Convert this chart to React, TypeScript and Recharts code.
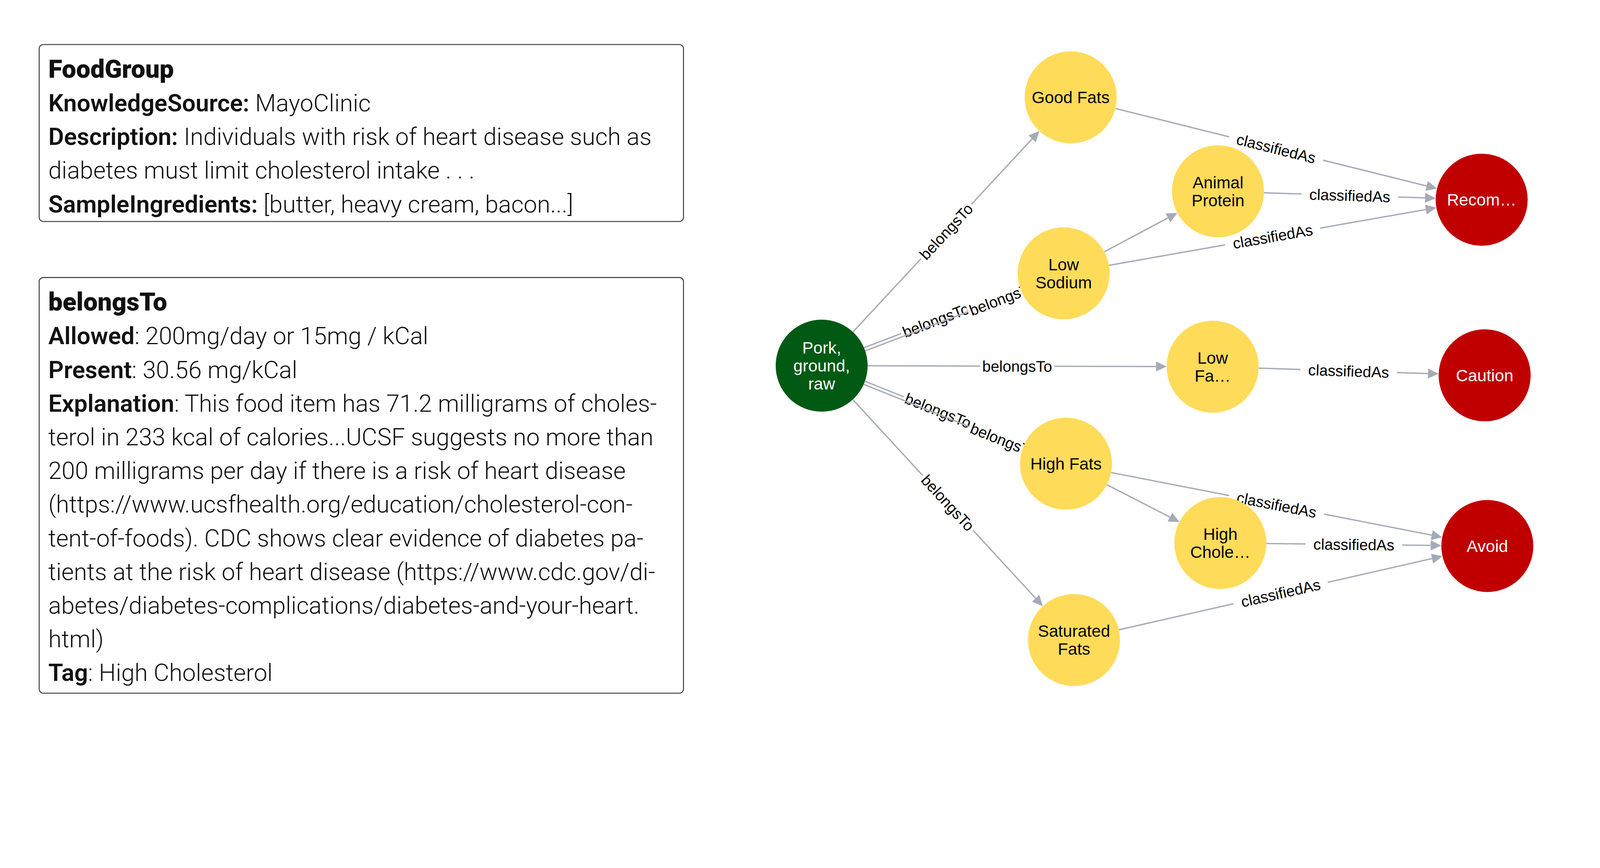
import * as React from "react";
import { ScatterChart, Scatter, XAxis, YAxis, ReferenceLine } from "recharts";

// graph nodes (page pixel coordinates)
const nodeNames = ["Pork", "GoodFats", "AnimalProtein", "LowSodium", "LowFat", "HighFats", "HighChole", "SaturatedFats", "Recom", "Caution", "Avoid"];
const nodeLabels = [["Pork,", "ground,", "raw"], ["Good Fats"], ["Animal", "Protein"], ["Low", "Sodium"], ["Low", "Fa…"], ["High Fats"], ["High", "Chole…"], ["Saturated", "Fats"], ["Recom…"], ["Caution"], ["Avoid"]];
const nodeX = [2465, 3212, 3654, 3191, 3638, 3198, 3661, 3222, 4445, 4454, 4462];
const nodeY = [1097, 292, 574, 820, 1100, 1391, 1629, 1920, 599, 1126, 1638];
const nodeKind = ["food", "group", "group", "group", "group", "group", "group", "group", "class", "class", "class"];

// edges: [source, target, label]
const edges: [string, string, string][] = [
  ["Pork", "GoodFats", "belongsTo"],
  ["Pork", "LowSodium", "belongsTo"],
  ["Pork", "LowSodium", "belongsTo"],
  ["Pork", "LowFat", "belongsTo"],
  ["Pork", "HighFats", "belongsTo"],
  ["Pork", "HighFats", "belongsTo"],
  ["Pork", "SaturatedFats", "belongsTo"],
  ["LowSodium", "AnimalProtein", ""],
  ["HighFats", "HighChole", ""],
  ["GoodFats", "Recom", "classifiedAs"],
  ["AnimalProtein", "Recom", "classifiedAs"],
  ["LowSodium", "Recom", "classifiedAs"],
  ["LowFat", "Caution", "classifiedAs"],
  ["HighFats", "Avoid", "classifiedAs"],
  ["HighChole", "Avoid", "classifiedAs"],
  ["SaturatedFats", "Avoid", "classifiedAs"],
];

const W = 4800;
const H = 2222;
const R = 138;
const EDGE = "#a5abb6";
const FILL: Record<string, string> = { food: "#005a14", group: "#ffdb5a", class: "#c00000" };
const LABEL_FONT = "'Liberation Sans', Arial, sans-serif";

const nodes = nodeNames.map((name, i) => ({ name, x: nodeX[i], y: nodeY[i], lines: nodeLabels[i], kind: nodeKind[i] }));
const byName = (n: string) => nodes[nodeNames.indexOf(n)];

function NodeShape(props: any) {
  const { cx, cy, payload } = props;
  const light = payload.kind !== "group";
  const lh = 54;
  const start = cy - ((payload.lines.length - 1) * lh) / 2;
  return (
    <g>
      <circle cx={cx} cy={cy} r={R} fill={FILL[payload.kind]} />
      {payload.lines.map((l: string, i: number) => (
        <text key={i} x={cx} y={start + i * lh} textAnchor="middle" dominantBaseline="central"
          fontFamily={LABEL_FONT} fontSize={50} fill={light ? "#fff" : "#000"}>{l}</text>
      ))}
    </g>
  );
}

function edgeShape(label: string, dup: number, total: number) {
  return (props: any) => {
    const { x1, y1, x2, y2 } = props;
    const dx = x2 - x1, dy = y2 - y1;
    const len = Math.hypot(dx, dy);
    const ux = dx / len, uy = dy / len;
    const off = total > 1 ? (dup - (total - 1) / 2) * 10 : 0;
    const px = -uy * off, py = ux * off;
    const sx = x1 + ux * R + px, sy = y1 + uy * R + py;
    const tx = x2 - ux * R + px, ty = y2 - uy * R + py;
    const ah = 32, aw = 15;
    const bx = tx - ux * ah, by = ty - uy * ah;
    const t = total > 1 ? (dup === 0 ? 0.46 : 0.88) : 0.5;
    const lx = sx + (tx - sx) * t, ly = sy + (ty - sy) * t;
    const ang = (Math.atan2(dy, dx) * 180) / Math.PI;
    const tw = label.length * 22.5 + 20;
    return (
      <g>
        <line x1={sx} y1={sy} x2={bx} y2={by} stroke={EDGE} strokeWidth={4} />
        <polygon points={`${tx},${ty} ${bx - uy * aw},${by + ux * aw} ${bx + uy * aw},${by - ux * aw}`} fill={EDGE} />
        {label && (
          <g transform={`translate(${lx},${ly}) rotate(${ang})`}>
            <rect x={-tw / 2} y={-26} width={tw} height={52} fill="#fff" />
            <text x={0} y={0} textAnchor="middle" dominantBaseline="central" fontFamily={LABEL_FONT} fontSize={46} fill="#000">{label}</text>
          </g>
        )}
      </g>
    );
  };
}

const boxFont = "Roboto, 'Open Sans', sans-serif";

function Box({ top, height, lines }: { top: number; height: number; lines: [string, string, string][] }) {
  return (
    <div style={{ position: "absolute", left: 116, top, width: 1936, height, border: "3px solid #444", borderRadius: 14, boxSizing: "border-box", padding: "22px 26px", fontFamily: boxFont, fontSize: 72, lineHeight: "101px", color: "#111", whiteSpace: "nowrap" }}>
      {lines.map(([b, sep, rest], i) => (
        <div key={i} style={{ fontWeight: 300 }}>
          {b && <span style={{ fontWeight: i === 0 ? 900 : 600, fontSize: i === 0 ? 76 : 72 }}>{b}</span>}
          {sep}{rest}
        </div>
      ))}
    </div>
  );
}

const box1: [string, string, string][] = [
  ["FoodGroup", "", ""],
  ["KnowledgeSource:", " ", "MayoClinic"],
  ["Description:", " ", "Individuals with risk of heart disease such as"],
  ["", "", "diabetes must limit cholesterol intake . . ."],
  ["SampleIngredients:", " ", "[butter, heavy cream, bacon...]"],
];
const box2: [string, string, string][] = [
  ["belongsTo", "", ""],
  ["Allowed", ": ", "200mg/day or 15mg / kCal"],
  ["Present", ": ", "30.56 mg/kCal"],
  ["Explanation", ": ", "This food item has 71.2 milligrams of choles-"],
  ["", "", "terol in 233 kcal of calories...UCSF suggests no more than"],
  ["", "", "200 milligrams per day if there is a risk of heart disease"],
  ["", "", "(https://www.ucsfhealth.org/education/cholesterol-con-"],
  ["", "", "tent-of-foods). CDC shows clear evidence of diabetes pa-"],
  ["", "", "tients at the risk of heart disease (https://www.cdc.gov/di-"],
  ["", "", "abetes/diabetes-complications/diabetes-and-your-heart."],
  ["", "", "html)"],
  ["Tag", ": ", "High Cholesterol"],
];

export default function App() {
  const seen: Record<string, number> = {};
  const counts: Record<string, number> = {};
  edges.forEach(([s, t]) => (counts[s + t] = (counts[s + t] || 0) + 1));
  const vw = typeof window !== "undefined" ? window.innerWidth : W;
  const vh = typeof window !== "undefined" ? window.innerHeight : H;
  const scale = Math.min(1, vw / W, vh / H);
  return (
    <div style={{ position: "absolute", left: 0, top: 0, width: W, height: H, background: "#fff", transform: `scale(${scale})`, transformOrigin: "0 0" }}>
      <Box top={132} height={534} lines={box1} />
      <Box top={831} height={1250} lines={box2} />
      <div style={{ position: "absolute", left: 0, top: 0 }}>
        <ScatterChart width={W} height={H} margin={{ top: 0, right: 0, bottom: 0, left: 0 }}>
          <XAxis type="number" dataKey="x" domain={[0, W]} hide allowDataOverflow />
          <YAxis type="number" dataKey="y" domain={[0, H]} reversed hide allowDataOverflow />
          {edges.map(([s, t, label], i) => {
            const a = byName(s), b = byName(t);
            const dup = seen[s + t] || 0;
            seen[s + t] = dup + 1;
            return (
              <ReferenceLine key={i} ifOverflow="visible"
                segment={[{ x: a.x, y: a.y }, { x: b.x, y: b.y }]}
                shape={edgeShape(label, dup, counts[s + t])} />
            );
          })}
          <Scatter data={nodes} shape={NodeShape} isAnimationActive={false} />
        </ScatterChart>
      </div>
    </div>
  );
}
